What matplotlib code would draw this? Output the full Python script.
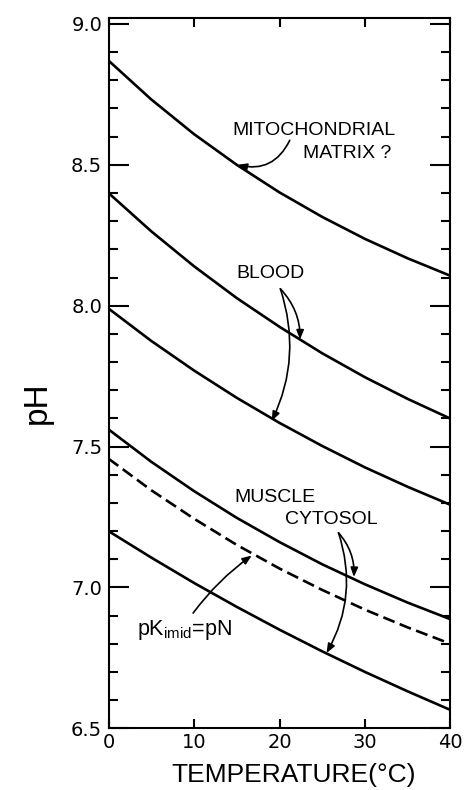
import matplotlib
matplotlib.use("Agg")
import matplotlib.pyplot as plt
from matplotlib.ticker import MultipleLocator, FixedLocator

# ---- data ----
temperature = [0, 5, 10, 15, 20, 25, 30, 35, 40]
mito_matrix   = [8.870, 8.732, 8.609, 8.500, 8.402, 8.315, 8.237, 8.168, 8.106]
blood_upper   = [8.400, 8.264, 8.140, 8.027, 7.925, 7.831, 7.746, 7.669, 7.599]
blood_lower   = [7.990, 7.875, 7.770, 7.673, 7.584, 7.502, 7.426, 7.357, 7.293]
muscle_upper  = [7.561, 7.446, 7.342, 7.247, 7.161, 7.082, 7.011, 6.946, 6.887]
pk_imid       = [7.457, 7.345, 7.244, 7.151, 7.067, 6.991, 6.921, 6.858, 6.800]
muscle_lower  = [7.200, 7.106, 7.016, 6.931, 6.850, 6.773, 6.700, 6.631, 6.565]

x_ticks = [0, 10, 20, 30, 40]
x_tick_labels = ["0", "10", "20", "30", "40"]
y_ticks = [6.5, 7.0, 7.5, 8.0, 8.5, 9.0]
y_tick_labels = ["6.5", "7.0", "7.5", "8.0", "8.5", "9.0"]

FONT = ["Liberation Sans", "DejaVu Sans"]

fig = plt.figure(figsize=(4.66, 7.90), dpi=100)
ax = fig.add_axes([108.5 / 466, 1 - 728.3 / 790, (450.5 - 108.5) / 466, (728.3 - 18.3) / 790])

lw = 1.9
for ys in (mito_matrix, blood_upper, blood_lower, muscle_upper, muscle_lower):
    ax.plot(temperature, ys, color="black", lw=lw, solid_capstyle="butt",
            solid_joinstyle="round")
ax.plot(temperature, pk_imid, color="black", lw=lw, dashes=(4.6, 2.1))

ax.set_xlim(0, 40)
ax.set_ylim(6.5, 9.02)

for s in ax.spines.values():
    s.set_linewidth(1.5)

ax.xaxis.set_major_locator(FixedLocator(x_ticks))
ax.set_xticklabels(x_tick_labels, fontsize=14, family="DejaVu Sans")
ax.yaxis.set_major_locator(FixedLocator(y_ticks))
ax.set_yticklabels(y_tick_labels, fontsize=14, family="DejaVu Sans")
ax.yaxis.set_minor_locator(MultipleLocator(0.1))
ax.tick_params(axis="x", which="major", direction="in", length=6.5, width=1.5,
               top=True, bottom=True, pad=3.5)
ax.tick_params(axis="y", which="major", direction="in", length=14.4, width=1.5,
               left=True, right=True, pad=4.5)
ax.tick_params(axis="y", which="minor", direction="in", length=6.5, width=1.5,
               left=True, right=True)

ap = dict(arrowstyle="-|>,head_length=0.55,head_width=0.22", color="black",
          lw=1.2, shrinkA=0, shrinkB=0)

def ann(xy, xytext, rad):
    d = dict(ap)
    d["connectionstyle"] = f"arc3,rad={rad}"
    ax.annotate("", xy=xy, xytext=xytext, xycoords="data", textcoords="data",
                arrowprops=d)

txt = dict(fontsize=14, family=FONT, color="black", ha="center", va="center")

# Mitochondrial matrix
ax.text(24.0, 8.623, "MITOCHONDRIAL", **txt)
ax.text(27.9, 8.54, "MATRIX ?", **txt)
ann((15.1, 8.50), (21.2, 8.587), -0.4)

# Blood
ax.text(18.9, 8.113, "BLOOD", **txt)
ann((22.4, 7.88), (20.1, 8.06), -0.2)
ann((19.1, 7.591), (20.1, 8.06), -0.2)

# Muscle cytosol
ax.text(19.5, 7.318, "MUSCLE", **txt)
ax.text(26.1, 7.241, "CYTOSOL", **txt)
ann((28.7, 7.037), (26.9, 7.194), -0.2)
ann((25.5, 6.767), (26.9, 7.194), -0.22)

# pK imid = pN
ax.text(8.9, 6.85, r"pK$_{\mathregular{imid}}$=pN", fontsize=15.5, family=FONT,
        color="black", ha="center", va="center")
ann((16.75, 7.113), (9.9, 6.909), -0.08)

fig.text(294 / 466, 1 - 775 / 790, "TEMPERATURE(°C)", fontsize=19, family=FONT,
         ha="center", va="center")
fig.text(37 / 466, 1 - 403 / 790, "pH", fontsize=24, family=FONT,
         ha="center", va="center", rotation=90)

fig.savefig("out.png", dpi=100)
